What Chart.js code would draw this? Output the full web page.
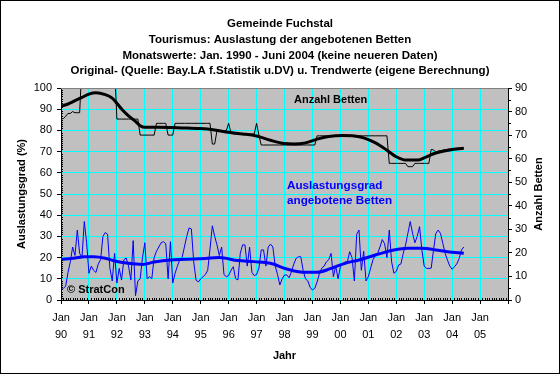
<!DOCTYPE html>
<html><head><meta charset="utf-8">
<script src="https://cdn.jsdelivr.net/npm/chart.js@4/dist/chart.umd.min.js"></script>
<style>html,body{margin:0;padding:0;background:#fff}canvas{display:block}</style>
</head><body>
<canvas id="c" width="560" height="374"></canvas>
<script>
const FONT = "'Liberation Sans', Arial, Helvetica, sans-serif";

const titleLines = [
  'Gemeinde Fuchstal',
  'Tourismus: Auslastung der angebotenen Betten',
  'Monatswerte: Jan. 1990 - Juni 2004 (keine neueren Daten)',
  'Original- (Quelle: Bay.LA f.Statistik u.DV) u. Trendwerte (eigene Berechnung)'
];
const yearLabels = ['90','91','92','93','94','95','96','97','98','99','00','01','02','03','04','05'];

// Monthly values Jan 1990 .. Jun 2004 (174 months)
const auslastung = [
  4.7, 5.5, 6.5, 13, 18, 25, 21, 33, 22, 20, 37, 27,
  12.6, 16, 14, 13, 17, 19, 30, 31.8, 31, 15, 9, 22,
  8, 14.9, 9.4, 19, 19.8, 16, 9.4, 28, 2, 9, 10, 20,
  27, 10, 11, 10, 20, 23, 25, 27, 27.5, 26.5, 10, 27.5,
  8, 12.6, 16, 19, 20, 25, 30, 34, 33.5, 18, 9.4, 8.5,
  10, 11, 12, 14, 24, 35, 30, 26, 21, 25, 12, 11,
  11.5, 14, 15.7, 10, 9.5, 22, 26, 26, 16, 25, 13, 11.5,
  12, 15, 23.6, 23.6, 16, 25, 26.4, 25, 16, 12, 7.1, 10,
  11.8, 11.8, 10.5, 13.4, 17, 19.7, 20.4, 20.4, 14, 10, 9, 6,
  4.7, 5.5, 8.5, 12.6, 15, 16, 18, 19, 22, 11, 16, 10,
  15.7, 17, 18, 18, 22.8, 20, 9, 31, 33, 14, 23, 9,
  11, 15, 19, 21, 22, 25, 28.5, 26.5, 20, 33, 18, 12.6,
  13.5, 16.5, 17, 22, 26, 31.5, 37, 31.5, 27, 30, 34.6, 23.6,
  16, 14.9, 14.9, 15, 23.6, 31.4, 33, 31.4, 26.7, 22, 18.8, 16,
  14.5, 15.7, 17, 19.5, 23.6, 25
];
const betten = [
  77, 77, 78, 79.2, 79.2, 80, 79.5, 79.5, 79.5, 100, 100, 100,
  100, 100, 100, 100, 100, 100, 100, 100, 100, 100, 100, 100,
  76.8, 76.8, 76.8, 76.8, 76.8, 76.8, 76.8, 76.8, 76.8, 76.8, 70, 70,
  70, 70, 70, 70, 70, 75, 75, 75, 75, 75, 70, 70,
  70, 75, 75, 75, 75, 75, 75, 75, 75, 75, 75, 75,
  75, 75, 75, 75, 75, 66.2, 66.2, 71.9, 71.9, 71.9, 71.9, 71.9,
  75, 71, 70.5, 70.5, 70.5, 70.5, 70.5, 70.5, 70.5, 70.5, 70.5, 70.5,
  75, 70, 65.8, 65.8, 65.8, 65.8, 65.8, 65.8, 65.8, 65.8, 65.8, 65.8,
  65.8, 65.8, 65.8, 65.8, 65.8, 65.8, 65.8, 65.8, 65.8, 65.8, 65.8, 65.8,
  65.8, 65.8, 69.7, 69.7, 69.7, 69.7, 69.7, 69.7, 69.7, 69.7, 69.7, 69.7,
  69.7, 69.7, 69.7, 69.7, 69.7, 69.7, 69.7, 69.7, 69.7, 69.7, 69.7, 69.7,
  69.7, 69.7, 69.7, 69.7, 69.7, 69.7, 69.7, 69.7, 69.7, 58, 58, 58,
  58, 58, 58, 58, 58, 56.6, 56.6, 56.6, 58, 58, 58, 58,
  58, 58, 58, 63.9, 63.7, 62.9, 63.2, 63.4, 63.6, 63.8, 64, 64.1,
  64.2, 64.3, 64.4, 64.4, 64.5, 64.5
];

// Trend values (month index since Jan 1990)
const auslastungTrendMonths = [0, 6, 10, 14, 19, 23, 29, 35, 40, 47, 54, 62, 68, 76, 83, 90, 97, 104, 110, 116, 122, 128, 135, 143, 149, 155, 161, 166, 173];
const auslastungTrendValues = [19.2, 19.8, 20.4, 20.4, 19.7, 18.4, 17.3, 16.8, 17.9, 18.9, 19.2, 19.6, 20.0, 18.6, 18.1, 17.3, 14.6, 13.1, 13.1, 14.9, 17.3, 18.9, 21.2, 23.6, 24.4, 24.4, 23.6, 22.8, 22];
const bettenTrendMonths = [0, 3, 6, 9, 12, 15, 19, 22, 24, 26, 29, 32, 34, 36, 42, 48, 54, 60, 66, 72, 78, 84, 90, 96, 100, 105, 110, 115, 121, 126, 130, 134, 137, 140, 144, 148, 153, 157, 161, 167, 173];
const bettenTrendValues = [82.3, 83.2, 84.6, 86, 87.4, 88, 87.2, 85.7, 83.5, 81.1, 78.2, 75.8, 74, 73.3, 73.3, 73.2, 73, 72.8, 72.2, 71.2, 70.5, 69.6, 67.8, 66.4, 66.2, 66.7, 68.3, 69.4, 69.8, 69.6, 68.8, 67.2, 65.6, 63.6, 60.8, 59.4, 59.4, 60.8, 62.4, 63.7, 64.4];

const pts = (xs, ys) => ys.map((y, i) => ({x: xs[i], y}));
const monthIdx = auslastung.map((v, i) => i);

const decor = {
  id: 'decor',
  beforeDraw(chart) {
    const {ctx, chartArea: a} = chart;
    ctx.save();
    ctx.fillStyle = '#fff';
    ctx.fillRect(0, 0, chart.width, chart.height);
    ctx.fillStyle = '#C0C0C0';
    ctx.fillRect(a.left, a.top, a.right - a.left, a.bottom - a.top);
    ctx.restore();
  },
  afterDatasetsDraw(chart) {
    const {ctx, chartArea: a} = chart;
    ctx.save();
    ctx.strokeStyle = '#808080';
    ctx.lineWidth = 1;
    ctx.beginPath();
    ctx.moveTo(a.left, a.top + 0.5);
    ctx.lineTo(a.right, a.top + 0.5);
    ctx.stroke();
    ctx.textBaseline = 'middle';
    ctx.textAlign = 'left';
    ctx.fillStyle = '#000';
    ctx.font = 'bold 11px ' + FONT;
    ctx.fillText('Anzahl Betten', 294, 99.5);
    ctx.fillText('\u00A9 StratCon', 67, 290);
    ctx.fillStyle = '#0000FF';
    ctx.font = 'bold 11.7px ' + FONT;
    ctx.fillText('Auslastungsgrad', 287, 185.5);
    ctx.fillText('angebotene Betten', 287, 200.5);
    ctx.restore();
  },
  afterDraw(chart) {
    const {ctx, chartArea: a, scales} = chart;
    ctx.save();
    ctx.strokeStyle = '#000';
    ctx.lineWidth = 1;
    ctx.beginPath();
    for (let m = 1; m < 192; m++) {
      if (m % 12 === 0) continue;
      const px = Math.round(scales.x.getPixelForValue(m)) + 0.5;
      ctx.moveTo(px, a.bottom);
      ctx.lineTo(px, a.bottom - 2);
    }
    for (let v = 1; v < 100; v++) {
      if (v % 10 === 0) continue;
      const py = Math.round(scales.yL.getPixelForValue(v)) + 0.5;
      ctx.moveTo(a.left, py);
      ctx.lineTo(a.left + 2, py);
    }
    for (let v = 5; v < 90; v += 10) {
      const py = Math.round(scales.yR.getPixelForValue(v)) + 0.5;
      ctx.moveTo(a.right, py);
      ctx.lineTo(a.right + 3, py);
    }
    ctx.stroke();
    // right axis title
    ctx.fillStyle = '#000';
    ctx.font = 'bold 11px ' + FONT;
    ctx.textAlign = 'center';
    ctx.textBaseline = 'middle';
    ctx.translate(539, (a.top + a.bottom) / 2);
    ctx.rotate(-Math.PI / 2);
    ctx.fillText('Anzahl Betten', 0, 0);
    ctx.setTransform(1, 0, 0, 1, 0, 0);
    ctx.strokeRect(0.5, 0.5, chart.width - 1, chart.height - 1);
    ctx.restore();
  }
};

Chart.defaults.font.family = FONT;
Chart.defaults.color = '#000';

new Chart(document.getElementById('c'), {
  type: 'line',
  data: {
    datasets: [
      {label: 'Auslastungsgrad Trend', data: pts(auslastungTrendMonths, auslastungTrendValues), yAxisID: 'yL',
       borderColor: '#0000FF', borderWidth: 3, pointRadius: 0, cubicInterpolationMode: 'monotone', fill: false},
      {label: 'Anzahl Betten Trend', data: pts(bettenTrendMonths, bettenTrendValues), yAxisID: 'yR',
       borderColor: '#000000', borderWidth: 3, pointRadius: 0, cubicInterpolationMode: 'monotone', fill: false},
      {label: 'Auslastungsgrad angebotene Betten', data: pts(monthIdx, auslastung), yAxisID: 'yL',
       borderColor: '#0000FF', borderWidth: 1, pointRadius: 0, tension: 0, fill: false},
      {label: 'Anzahl Betten', data: pts(monthIdx, betten), yAxisID: 'yR',
       borderColor: '#000000', borderWidth: 1, pointRadius: 0, tension: 0, fill: false}
    ]
  },
  options: {
    responsive: false,
    animation: false,
    devicePixelRatio: 1,
    layout: {padding: 0},
    plugins: {
      legend: {display: false},
      tooltip: {enabled: false},
      title: {
        display: true, text: titleLines, color: '#000',
        font: {family: FONT, size: 11.5, weight: 'bold', lineHeight: '15.8px'},
        padding: {top: 16, bottom: 8.8}
      }
    },
    scales: {
      x: {
        type: 'linear', position: 'bottom', min: 0, max: 192,
        ticks: {
          stepSize: 12, autoSkip: false, maxRotation: 0, minRotation: 0, padding: 5.75,
          color: '#000', font: {size: 11, lineHeight: '16.5px'},
          callback: (v) => {
            const i = Math.round(v / 12);
            return i < yearLabels.length ? ['Jan', yearLabels[i]] : '';
          }
        },
        grid: {color: '#00FFFF', lineWidth: 1, tickColor: '#000', tickLength: 4},
        border: {color: '#000', width: 1},
        title: {display: true, text: 'Jahr', color: '#000', font: {size: 11, weight: 'bold'}, padding: {top: 0, bottom: 11.4}},
        afterFit: (s) => { s.height = 74; }
      },
      yL: {
        type: 'linear', position: 'left', min: 0, max: 100,
        ticks: {stepSize: 10, padding: 5, color: '#000', font: {size: 11}},
        grid: {color: '#00FFFF', lineWidth: 1, tickColor: '#000', tickLength: 4},
        border: {color: '#000', width: 1},
        title: {display: true, text: 'Auslastungsgrad (%)', color: '#000', font: {size: 11, weight: 'bold'}, padding: {top: 15, bottom: 0}},
        afterFit: (s) => { s.width = 61; }
      },
      yR: {
        type: 'linear', position: 'right', min: 0, max: 90,
        ticks: {stepSize: 10, padding: 3, color: '#000', font: {size: 11}},
        grid: {drawOnChartArea: false, tickColor: '#000', tickLength: 4},
        border: {color: '#000', width: 1},
        afterFit: (s) => { s.width = 52; }
      }
    }
  },
  plugins: [decor]
});
</script>
</body></html>
